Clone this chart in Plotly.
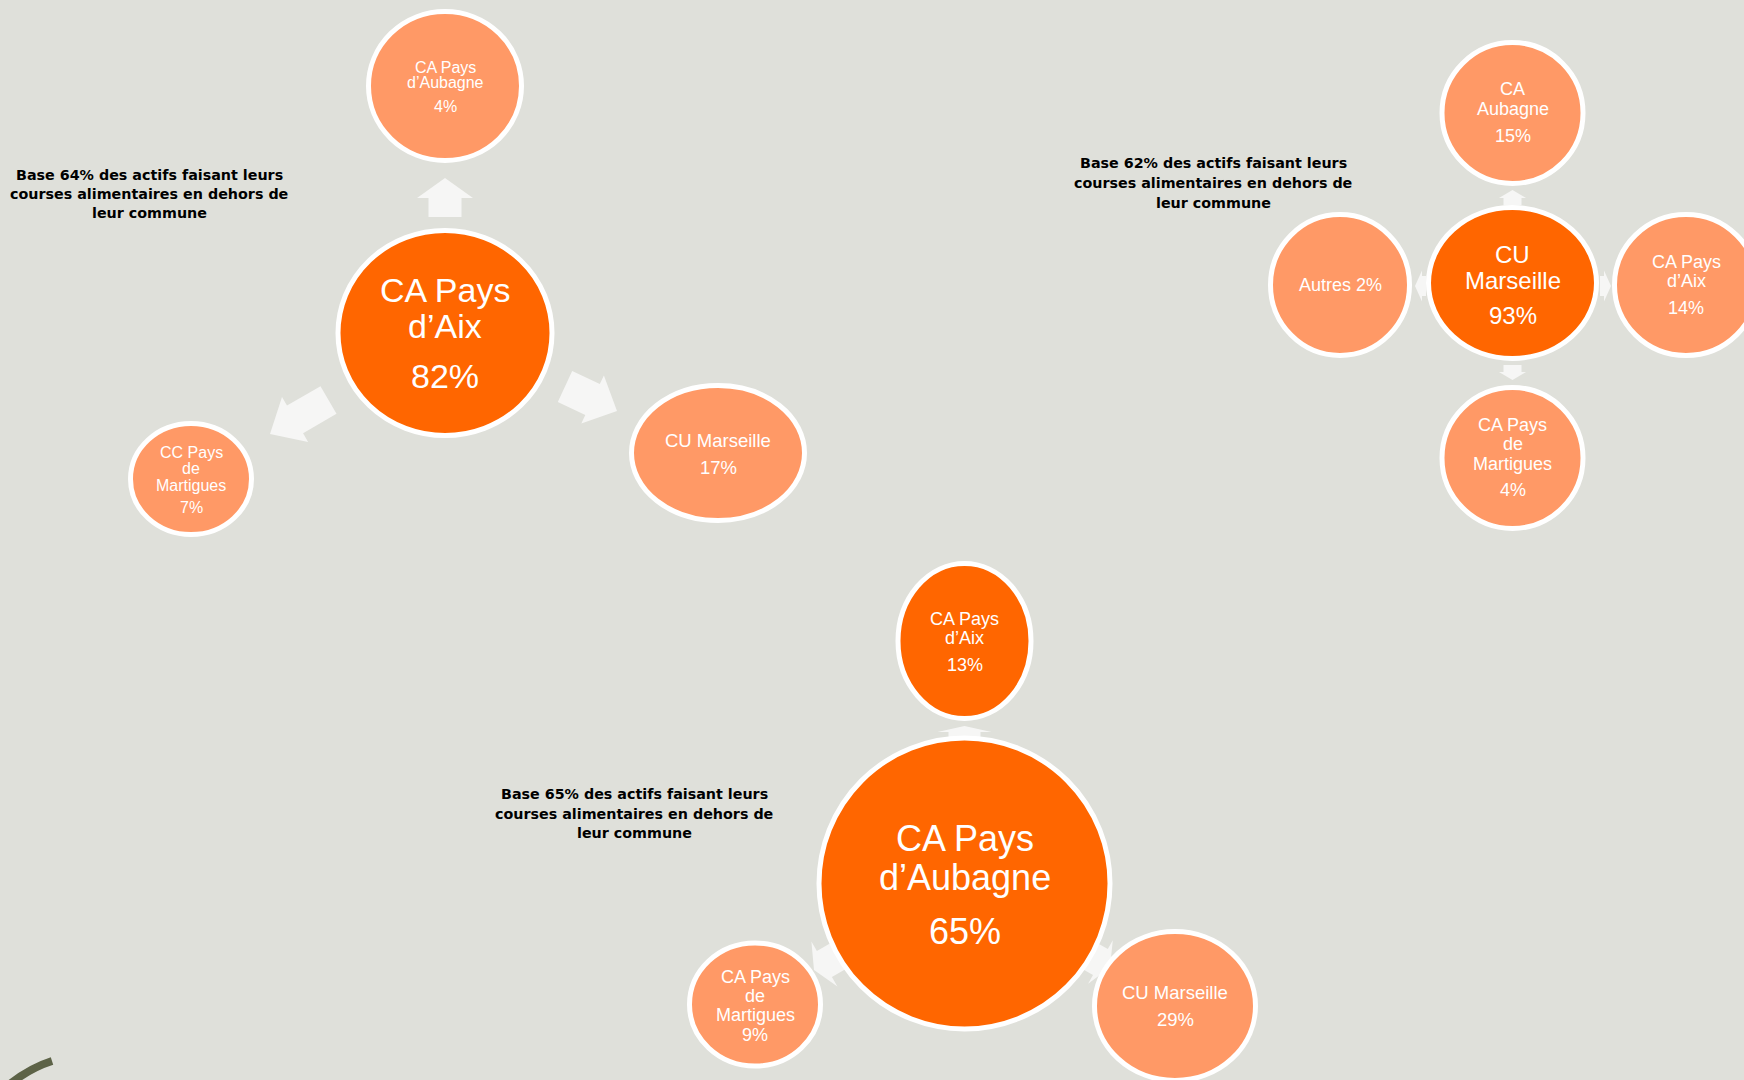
import math
import plotly.graph_objects as go

W, H = 1744, 1080

# ---------------- DATA ----------------
# Diagram 1: CA Pays d'Aix
aix_origin = ["CA Pays", "d’Aix"]
aix_origin_pct = 82
aix_dest_names = [["CA Pays", "d’Aubagne"], ["CU Marseille"], ["CC Pays", "de", "Martigues"]]
aix_dest_pct = [4, 17, 7]
aix_base = 64

# Diagram 2: CU Marseille
mars_origin = ["CU", "Marseille"]
mars_origin_pct = 93
mars_dest_names = [["CA", "Aubagne"], ["Autres"], ["CA Pays", "d’Aix"], ["CA Pays", "de", "Martigues"]]
mars_dest_pct = [15, 2, 14, 4]
mars_base = 62

# Diagram 3: CA Pays d'Aubagne
aub_origin = ["CA Pays", "d’Aubagne"]
aub_origin_pct = 65
aub_dest_names = [["CA Pays", "d’Aix"], ["CA Pays", "de", "Martigues"], ["CU Marseille"]]
aub_dest_pct = [13, 9, 29]
aub_base = 65

base_lines = ["Base {}% des actifs faisant leurs", "courses alimentaires en dehors de", "leur commune"]

# ---------------- STYLE / LAYOUT ----------------
BG = "#dfe0da"
DARK = "#ff6600"
LIGHT = "#ff9966"
ARROW = "#f6f6f5"
BORDER = 5

# circle geometry: (cx, cy, rx, ry, fill, fontsize, line_ys, inline_pct)
geo1 = {
    "origin": (445, 333, 109.5, 105, DARK, 34, [290, 326, 376], False),
    "dest": [
        (445, 86, 79, 77, LIGHT, 16, [67, 82.5, 106], False),
        (718, 453, 89, 70, LIGHT, 18.5, [440, 467], False),
        (191, 479, 63, 58, LIGHT, 16, [452, 468, 485, 507], False),
    ],
    "arrows": [((445, 217), (445, 178), 33, 56, 20),
               ((565, 386.5), (617, 411), 34, 53, 27),
               ((328.5, 400), (270, 434), 32, 52, 29)],
    "base_xy": (149, [175, 194, 213]),
}
geo2 = {
    "origin": (1512.5, 283, 86.5, 78, DARK, 24, [254, 280, 315], False),
    "dest": [
        (1512.5, 113, 73, 73, LIGHT, 18, [89, 109, 136], False),
        (1340, 285, 72, 73, LIGHT, 18, [285], True),
        (1686, 285, 74, 73, LIGHT, 18, [262, 281, 308], False),
        (1512.5, 458, 73, 73, LIGHT, 18, [425, 444, 464, 490], False),
    ],
    "arrows": [((1512.5, 205), (1512.5, 190), 18, 27, 8),
               ((1426, 286), (1415, 286), 20, 31, 7),
               ((1600, 286), (1611, 286), 20, 31, 7),
               ((1512.5, 365), (1512.5, 380), 18, 27, 8)],
    "base_xy": (1213, [163, 183, 202.5]),
}
geo3 = {
    "origin": (964.5, 883.5, 148, 148, DARK, 36, [838, 877.5, 931], False),
    "dest": [
        (964.5, 641, 69, 80, DARK, 18, [619, 638, 665], False),
        (755, 1004.5, 68, 64, LIGHT, 18, [977, 996, 1015, 1035], False),
        (1175, 1006, 83, 77, LIGHT, 18.5, [992, 1019], False),
    ],
    "arrows": [((964.5, 738), (964.5, 726), 32, 54, 6),
               ((840, 955), (814, 970), 30, 52, 12),
               ((1088, 955), (1110, 967.5), 30, 50, 11)],
    "base_xy": (634, [794, 814, 833]),
}


def arrow_path(tail, tip, shaft_w, head_w, head_len):
    dx, dy = tip[0] - tail[0], tip[1] - tail[1]
    L = math.hypot(dx, dy)
    ux, uy = dx / L, dy / L
    nx, ny = -uy, ux
    bx, by = tip[0] - ux * head_len, tip[1] - uy * head_len
    pts = [
        (tail[0] + nx * shaft_w / 2, tail[1] + ny * shaft_w / 2),
        (bx + nx * shaft_w / 2, by + ny * shaft_w / 2),
        (bx + nx * head_w / 2, by + ny * head_w / 2),
        tip,
        (bx - nx * head_w / 2, by - ny * head_w / 2),
        (bx - nx * shaft_w / 2, by - ny * shaft_w / 2),
        (tail[0] - nx * shaft_w / 2, tail[1] - ny * shaft_w / 2),
    ]
    return "M " + " L ".join(f"{x:.1f} {y:.1f}" for x, y in pts) + " Z"


fig = go.Figure()
shapes = []
annotations = []


def add_circle(g, lines, pct):
    cx, cy, rx, ry, fill, fs, ys, inline = g
    r_x, r_y = rx - BORDER / 2, ry - BORDER / 2
    shapes.append(dict(type="circle", xref="x", yref="y",
                       x0=cx - r_x, x1=cx + r_x, y0=cy - r_y, y1=cy + r_y,
                       fillcolor=fill, line=dict(color="white", width=BORDER), layer="above"))
    if inline:
        texts = [f"{lines[0]} {pct}%"]
    else:
        texts = list(lines) + [f"{pct}%"]
    for t, y in zip(texts, ys):
        annotations.append(dict(x=cx, y=y, xref="x", yref="y", text=t, showarrow=False,
                                xanchor="center", yanchor="middle",
                                font=dict(family="Liberation Sans, Arial, sans-serif",
                                          size=fs, color="white")))


def add_diagram(geo, origin, origin_pct, names, pcts, base):
    for a in geo["arrows"]:
        shapes.append(dict(type="path", xref="x", yref="y", path=arrow_path(*a),
                           fillcolor=ARROW, line=dict(width=0), layer="above"))
    add_circle(geo["origin"], origin, origin_pct)
    for g, n, p in zip(geo["dest"], names, pcts):
        add_circle(g, n, p)
    bx, bys = geo["base_xy"]
    for t, y in zip(base_lines, bys):
        annotations.append(dict(x=bx, y=y, xref="x", yref="y", text="<b>" + t.format(base) + "</b>",
                                showarrow=False, xanchor="center", yanchor="middle",
                                font=dict(family="DejaVu Sans, sans-serif", size=14.3, color="black")))


add_diagram(geo1, aix_origin, aix_origin_pct, aix_dest_names, aix_dest_pct, aix_base)
add_diagram(geo2, mars_origin, mars_origin_pct, mars_dest_names, mars_dest_pct, mars_base)
add_diagram(geo3, aub_origin, aub_origin_pct, aub_dest_names, aub_dest_pct, aub_base)

# decorative olive stroke at the bottom-left corner
shapes.append(dict(type="path", xref="x", yref="y", path="M 10 1084 Q 30 1068 52 1061",
                   line=dict(color="#5d6347", width=8), layer="above"))

# invisible trace so axes exist
fig.add_trace(go.Scatter(x=[0, W], y=[0, H], mode="markers", marker=dict(opacity=0),
                         hoverinfo="skip", showlegend=False))

fig.update_layout(
    width=W, height=H, margin=dict(l=0, r=0, t=0, b=0),
    paper_bgcolor=BG, plot_bgcolor=BG,
    xaxis=dict(range=[0, W], visible=False, fixedrange=True),
    yaxis=dict(range=[H, 0], visible=False, fixedrange=True),
    shapes=shapes, annotations=annotations, showlegend=False,
)

fig.write_html("out.html", config={"displayModeBar": False},
               post_script="document.body.style.margin='0';document.body.style.overflow='hidden';")
